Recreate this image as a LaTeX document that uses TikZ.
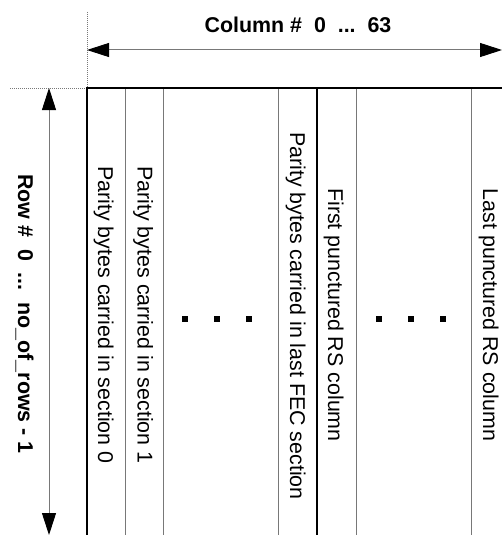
\documentclass[tikz,border=0pt]{standalone}
\usepackage{fontspec}
\setmainfont{Liberation Sans}
\usetikzlibrary{arrows.meta}
\definecolor{linegray}{RGB}{120,120,120}
\tikzset{
  thinline/.style={draw=linegray, line width=1pt},
  thickline/.style={draw=black, line width=2.6pt},
  dotline/.style={draw=linegray, line width=0.9pt, dash pattern=on 1pt off 1pt},
  dimarrow/.style={draw=linegray, line width=1pt,
    {Triangle[length=22pt,width=14pt,fill=black,color=black]}-{Triangle[length=22pt,width=14pt,fill=black,color=black]}},
  coltext/.style={anchor=base, rotate=-90, inner sep=0pt, font=\fontsize{21.4}{25}\selectfont},
  dimtext/.style={anchor=base, inner sep=0pt, font=\fontsize{21.4}{25}\selectfont\bfseries},
  dotmark/.style={fill=black, draw=none, minimum width=6pt, minimum height=6pt, inner sep=0pt},
}
\begin{document}
\begin{tikzpicture}[x=1pt,y=-1pt]
\useasboundingbox (0,0) rectangle (502,535);
% dotted guide lines
\coordinate (gtop) at (87,12);
\coordinate (corner) at (87,88);
\coordinate (gleft) at (10,88);
\draw[dotline] (gtop) -- (corner);
\draw[dotline] (gleft) -- (corner);
% column dimension
\coordinate (cl) at (87,50);
\coordinate (cr) at (502,50);
\draw[dimarrow] (cl) -- (cr);
\node[dimtext] (coltitle) at (298,33) {Column \#~~0~~...~~63};
% row dimension
\coordinate (rt) at (49,88);
\coordinate (rb) at (49,535);
\draw[dimarrow] (rt) -- (rb);
\node[dimtext, rotate=-90] (rowtitle) at (18,314) {Row \#~~0~~...~~no\_of\_rows - 1};
% column separators (thin)
\foreach \x/\n in {125/a,163/b,278/c,356/d,471/e}{
  \coordinate (t\n) at (\x,88);
  \coordinate (b\n) at (\x,535);
  \draw[thinline] (t\n) -- (b\n);
}
% thick lines
\coordinate (tr) at (505,88);
\coordinate (lb) at (87,537);
\coordinate (mt) at (317,88);
\coordinate (mb) at (317,537);
\draw[thickline] (lb) -- (corner) -- (tr);
\draw[thickline] (mt) -- (mb);
% column texts
\node[coltext] (s0) at (98,315) {Parity bytes carried in section 0};
\node[coltext] (s1) at (137.5,315) {Parity bytes carried in section 1};
\node[coltext] (slast) at (290,316) {Parity bytes carried in last FEC section};
\node[coltext] (pfirst) at (328,315) {First punctured RS column};
\node[coltext] (plast) at (483,315) {Last punctured RS column};
% ellipsis dots
\node[dotmark] (d1) at (185,319) {};
\node[dotmark] (d2) at (217,319) {};
\node[dotmark] (d3) at (249,319) {};
\node[dotmark] (d4) at (379,319) {};
\node[dotmark] (d5) at (411,319) {};
\node[dotmark] (d6) at (443,319) {};
\end{tikzpicture}
\end{document}
